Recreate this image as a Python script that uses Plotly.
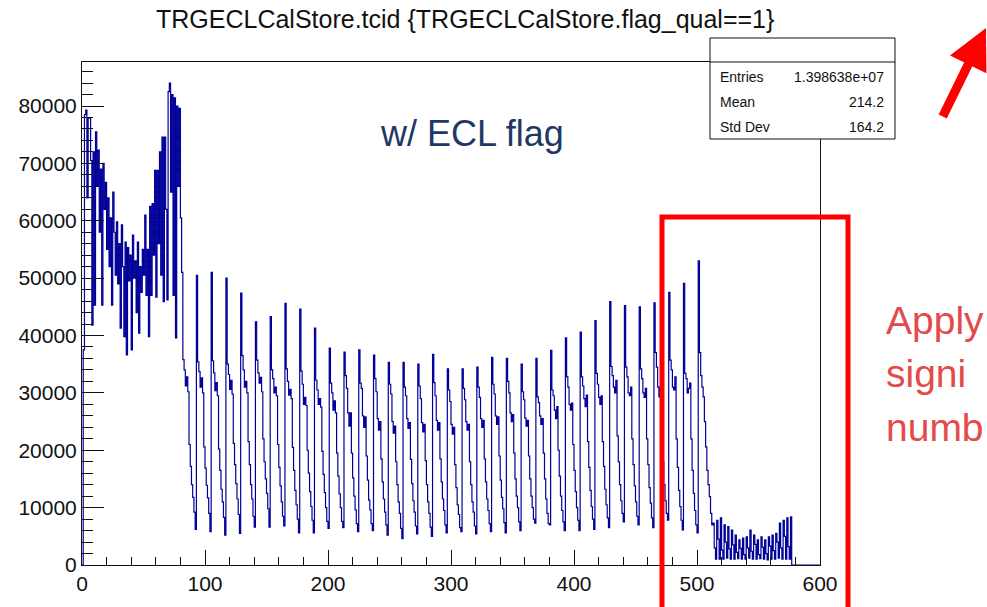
import plotly.graph_objects as go

# ---------------- data (counts in thousands) ----------------
# forward endcap, tcid 1..80
forward_endcap = [
    37.5, 78.5, 79.3, 64.0, 78.0,
    77.9, 70.5, 41.8, 72.0, 45.3,
    75.5, 66.0, 72.3, 58.0, 69.0,
    45.3, 70.0, 62.0, 66.7, 55.0,
    64.0, 52.0, 60.5, 45.3, 65.0,
    58.0, 50.5, 59.8, 49.0, 56.0,
    41.3, 59.3, 52.0, 39.8, 56.3,
    36.6, 55.3, 49.5, 54.0, 37.5,
    57.5, 50.0, 53.0, 44.0, 56.3,
    40.4, 52.0, 47.5, 55.0, 50.5,
    61.0, 47.0, 55.0, 39.8, 62.5,
    47.0, 63.0, 54.0, 68.8, 46.7,
    68.8, 56.0, 72.0, 50.5, 74.6,
    45.9, 74.6, 62.0, 46.2, 82.5,
    84.0, 65.0, 82.0, 47.0, 81.4,
    39.6, 80.0, 66.0, 79.6, 60.5,
]

# barrel, tcid 81..512 : 36 phi groups x 12 theta bins
barrel = [
    [51.0, 35.8, 34.0, 31.2, 32.8, 30.2, 21.0, 17.2, 14.0, 11.8, 9.2, 6.2],
    [50.5, 35.4, 33.7, 31.0, 32.6, 30.0, 20.6, 16.9, 13.9, 11.7, 9.0, 5.8],
    [51.0, 35.6, 33.5, 30.4, 31.8, 29.5, 20.2, 16.5, 13.2, 11.0, 8.3, 5.2],
    [50.0, 35.0, 33.2, 30.6, 32.2, 29.8, 21.2, 17.5, 14.2, 11.5, 8.8, 5.5],
    [47.4, 36.5, 34.0, 31.0, 32.0, 30.0, 21.5, 17.5, 14.0, 11.5, 8.5, 6.6],
    [42.4, 35.7, 33.5, 31.7, 32.7, 30.2, 22.0, 18.0, 15.0, 12.5, 9.8, 6.6],
    [43.3, 34.0, 32.5, 30.0, 31.0, 29.5, 21.0, 17.0, 13.8, 11.0, 8.5, 6.8],
    [45.6, 34.2, 32.0, 29.6, 30.6, 29.0, 20.5, 16.5, 13.0, 10.5, 8.0, 5.6],
    [44.6, 33.8, 31.5, 28.0, 29.2, 27.8, 20.0, 16.0, 12.8, 10.2, 7.8, 5.6],
    [41.3, 32.2, 30.5, 28.0, 29.0, 27.5, 19.8, 15.8, 12.6, 10.0, 7.6, 6.4],
    [37.8, 31.7, 30.0, 27.0, 28.6, 26.5, 19.5, 15.5, 12.4, 10.0, 7.6, 6.5],
    [37.1, 33.0, 30.8, 26.5, 24.2, 26.5, 19.5, 15.2, 12.0, 9.6, 7.2, 5.8],
    [37.5, 31.7, 30.8, 26.0, 24.0, 25.8, 19.0, 14.8, 11.3, 9.6, 7.2, 6.0],
    [36.6, 32.5, 30.2, 25.5, 23.5, 25.0, 18.5, 14.5, 11.5, 9.2, 7.0, 5.2],
    [35.3, 31.5, 29.8, 25.0, 23.0, 24.2, 18.0, 14.0, 11.0, 9.0, 6.4, 4.6],
    [35.3, 31.0, 29.5, 25.5, 23.8, 24.8, 18.4, 14.2, 11.2, 9.2, 6.8, 5.4],
    [35.0, 31.2, 29.0, 24.8, 23.2, 24.5, 18.2, 14.0, 11.0, 9.0, 6.6, 5.0],
    [36.7, 31.8, 29.5, 25.2, 23.5, 24.8, 18.5, 14.5, 11.5, 9.5, 7.0, 5.6],
    [34.2, 30.5, 28.5, 24.5, 22.8, 24.0, 17.5, 13.5, 10.5, 8.8, 6.5, 5.8],
    [34.2, 30.8, 28.8, 25.0, 23.5, 24.5, 18.0, 14.0, 11.0, 9.2, 6.8, 5.4],
    [34.5, 31.0, 29.2, 25.5, 24.0, 25.2, 18.5, 14.5, 11.5, 9.5, 7.2, 5.8],
    [36.2, 31.5, 29.8, 26.0, 24.5, 25.8, 19.0, 14.8, 11.8, 9.8, 7.4, 5.6],
    [36.0, 32.0, 30.0, 26.5, 25.0, 26.2, 19.5, 15.0, 12.0, 10.0, 7.5, 6.0],
    [35.0, 30.2, 28.8, 25.6, 24.2, 25.2, 19.0, 15.0, 12.0, 10.0, 8.0, 7.3],
    [36.0, 29.3, 28.3, 26.0, 24.5, 25.5, 19.5, 15.0, 11.5, 9.0, 7.2, 7.0],
    [37.4, 30.5, 29.5, 27.0, 25.5, 27.6, 20.0, 15.5, 12.0, 9.5, 7.5, 6.0],
    [39.6, 32.8, 31.0, 28.0, 27.0, 28.2, 21.0, 16.5, 12.8, 10.0, 7.8, 6.0],
    [40.6, 32.8, 31.2, 29.0, 27.6, 29.6, 21.5, 17.0, 13.0, 10.2, 8.0, 6.2],
    [42.6, 33.4, 31.5, 29.2, 28.0, 29.5, 21.5, 17.2, 13.2, 10.5, 8.2, 6.5],
    [45.9, 34.6, 33.0, 31.0, 30.0, 32.2, 22.5, 18.0, 14.0, 11.2, 9.0, 7.5],
    [45.2, 34.5, 32.8, 30.0, 29.5, 31.0, 22.0, 17.5, 13.8, 11.0, 8.5, 7.0],
    [45.0, 34.2, 32.5, 30.0, 29.2, 30.8, 22.0, 17.5, 13.5, 10.8, 8.2, 6.5],
    [45.7, 37.0, 34.5, 31.0, 29.3, 31.0, 22.5, 18.0, 14.0, 11.2, 9.0, 7.8],
    [47.5, 35.7, 34.0, 31.0, 30.5, 32.8, 22.0, 17.0, 13.0, 10.2, 7.8, 6.1],
    [49.1, 33.4, 32.5, 30.0, 30.8, 31.7, 22.0, 16.5, 12.5, 9.5, 7.0, 5.6],
    [53.0, 37.0, 33.0, 31.0, 29.3, 25.0, 20.6, 16.5, 14.0, 11.9, 9.0, 7.0],
]

# backward endcap, tcid 513..576
backward_endcap = [
    7.3, 3.0, 1.0,
    7.8, 4.5, 1.0,
    8.2, 2.6, 1.0,
    7.0, 4.0, 1.2,
    6.7, 2.8, 1.0,
    6.1, 3.5, 1.0,
    5.2, 2.2, 1.1,
    4.4, 2.9, 1.0,
    4.7, 1.8, 1.0,
    4.9, 3.0, 1.2,
    6.1, 2.4, 1.0,
    5.2, 3.6, 1.0,
    4.4, 1.8, 1.1,
    4.9, 3.1, 1.0,
    4.4, 2.0, 0.9,
    4.9, 3.3, 1.0,
    5.2, 2.5, 1.0,
    5.5, 4.0, 1.2,
    7.3, 3.0, 1.0,
    7.8, 5.0, 1.0,
    8.2, 3.2, 1.0,
    8.4,
]

title_text = "TRGECLCalStore.tcid {TRGECLCalStore.flag_qual==1}"
stat_labels = ["Entries", "Mean", "Std Dev"]
stat_values = ["1.398638e+07", "214.2", "164.2"]
side_words = ["Apply", "signi", "numb"]   # visible part of the slide text
x_range = [0, 600]
y_range = [0, 87670]

# ---------------- build histogram outline ----------------
counts_k = list(forward_endcap)
for row in barrel:
    counts_k.extend(row)
counts_k.extend(backward_endcap)
counts = [v * 1000 for v in counts_k]
n = len(counts)
xs = [0] + list(range(1, n + 1)) + [n + 1, x_range[1]]
ys = [0] + counts + [0, 0]

fig = go.Figure()
fig.add_trace(go.Scatter(
    x=xs, y=ys, mode="lines",
    line=dict(color="#000099", width=1.2, shape="hv"),
    hoverinfo="skip", showlegend=False,
))

L, R, T, B = 82, 820, 62, 565
W, H = 987, 607


def px(x):
    return (x - L) / (R - L)


def py(y):
    return (B - y) / (B - T)


font_main = "Liberation Sans, Arial, Helvetica, sans-serif"

fig.update_layout(
    width=W, height=H,
    margin=dict(l=L, r=W - R, t=T, b=H - B, pad=0),
    paper_bgcolor="white", plot_bgcolor="white",
    font=dict(family=font_main, color="#111111"),
    xaxis=dict(
        range=x_range, tick0=0, dtick=100, ticks="inside", ticklen=15,
        tickwidth=1, tickcolor="#111", showline=True, linecolor="#111",
        linewidth=1, mirror=True, showgrid=False, zeroline=False,
        tickfont=dict(size=21, color="#111"),
        minor=dict(dtick=20, ticks="inside", ticklen=8, tickcolor="#111",
                   tickwidth=1, showgrid=False),
    ),
    yaxis=dict(
        range=y_range, tick0=0, dtick=10000, tickformat="d", ticks="inside",
        ticklen=22, tickwidth=1, tickcolor="#111", showline=True,
        linecolor="#111", linewidth=1, mirror=True, showgrid=False,
        zeroline=False, tickfont=dict(size=21, color="#111"),
        minor=dict(dtick=2000, ticks="inside", ticklen=11, tickcolor="#111",
                   tickwidth=1, showgrid=False),
    ),
)

shapes = []
# stats box
shapes.append(dict(type="rect", xref="paper", yref="paper",
                   x0=px(710), x1=px(895), y0=py(139), y1=py(38),
                   line=dict(color="#111", width=1), fillcolor="white",
                   layer="above"))
shapes.append(dict(type="line", xref="paper", yref="paper",
                   x0=px(710), x1=px(895), y0=py(62), y1=py(62),
                   line=dict(color="#111", width=1), layer="above"))
# red highlight box
shapes.append(dict(type="rect", xref="paper", yref="paper",
                   x0=px(662), x1=px(848), y0=py(620), y1=py(217),
                   line=dict(color="#ff0000", width=5), fillcolor="rgba(0,0,0,0)",
                   layer="above"))
fig.update_layout(shapes=shapes)

ann = []
ann.append(dict(text=title_text, xref="paper", yref="paper", x=px(465), y=py(19),
                xanchor="center", yanchor="middle", showarrow=False,
                font=dict(size=25, color="#111", family=font_main)))
for i, (lab, val) in enumerate(zip(stat_labels, stat_values)):
    yy = py(77 + 25 * i)
    ann.append(dict(text=lab, xref="paper", yref="paper", x=px(718), y=yy,
                    xanchor="left", yanchor="middle", showarrow=False,
                    font=dict(size=14, color="#111", family=font_main)))
    ann.append(dict(text=val, xref="paper", yref="paper", x=px(886), y=yy,
                    xanchor="right", yanchor="middle", showarrow=False,
                    font=dict(size=14, color="#111", family=font_main)))
ann.append(dict(text="w/ ECL flag", xref="paper", yref="paper", x=px(472), y=py(133),
                xanchor="center", yanchor="middle", showarrow=False,
                font=dict(size=36, color="#1f3864", family=font_main)))
for word, yy in zip(side_words, [320, 373, 427]):
    ann.append(dict(text=word, xref="paper", yref="paper", x=px(884), y=py(yy),
                    xanchor="left", yanchor="middle", showarrow=False,
                    font=dict(size=39, color="#e34a4a", family=font_main)))
# red arrow
ann.append(dict(text="", xref="paper", yref="paper", x=px(990), y=py(28),
                ax=-48, ay=90, showarrow=True, arrowhead=2, arrowsize=0.9,
                arrowwidth=9, arrowcolor="#ff0000", standoff=0))
fig.update_layout(annotations=ann)

fig.write_html("out.html")
